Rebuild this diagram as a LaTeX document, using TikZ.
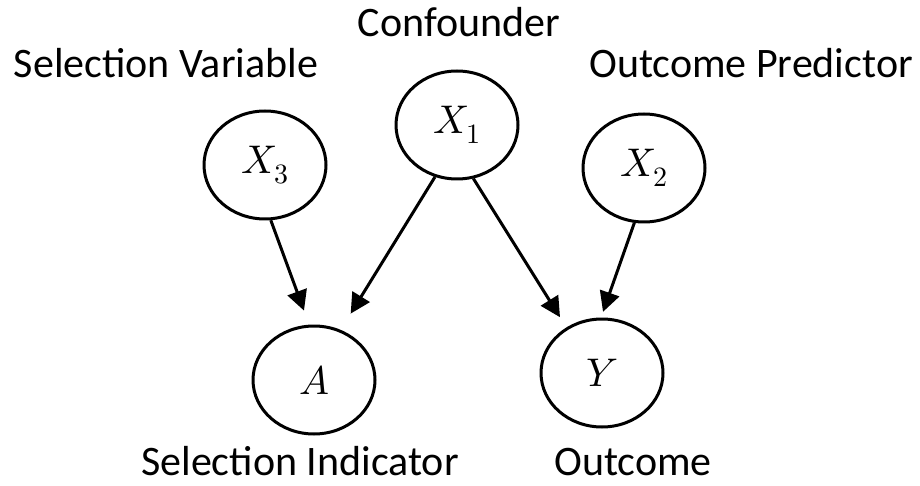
\documentclass[tikz,border=0pt]{standalone}
\usepackage{unicode-math}
\setmainfont{Carlito}
\setmathfont{Latin Modern Math}
\usetikzlibrary{shapes.geometric,arrows.meta}
\begin{document}
\begin{tikzpicture}[x=1pt,y=-1pt,
  var/.style={draw=black,line width=3pt,ellipse,minimum width=122pt,minimum height=108pt,inner sep=0pt,font=\fontsize{40}{44}\selectfont},
  lbl/.style={font=\fontsize{42}{46}\selectfont,inner sep=0pt,anchor=base},
  edge/.style={line width=3pt,-{Triangle[length=20pt,width=20pt]}}]
\useasboundingbox (0,0) rectangle (920,486);
\node[var] (X1) at (457,125) {$X_1$};
\node[var] (X3) at (265,165) {$X_3$};
\node[var] (X2) at (644,168) {$X_2$};
\node[var] (A) at (314,380) {$A$};
\node[var] (Y) at (602,373) {$Y$};
\node[lbl] (lc) at (459,37) {Confounder};
\node[lbl] (lsv) at (166,78) {Selection Variable};
\node[lbl] (lop) at (751,78) {Outcome Predictor};
\node[lbl] (lsi) at (300,475) {Selection Indicator};
\node[lbl] (lo) at (633,475) {Outcome};
\draw[edge,shorten >=15pt] (X3.-84) -- (A.95);
\draw[edge,shorten >=19pt] (X1.247) -- (A.62);
\draw[edge,shorten >=12pt] (X1.-73.5) -- (Y.128);
\draw[edge,shorten >=6pt] (X2.260.5) -- (Y.91);
\end{tikzpicture}
\end{document}
